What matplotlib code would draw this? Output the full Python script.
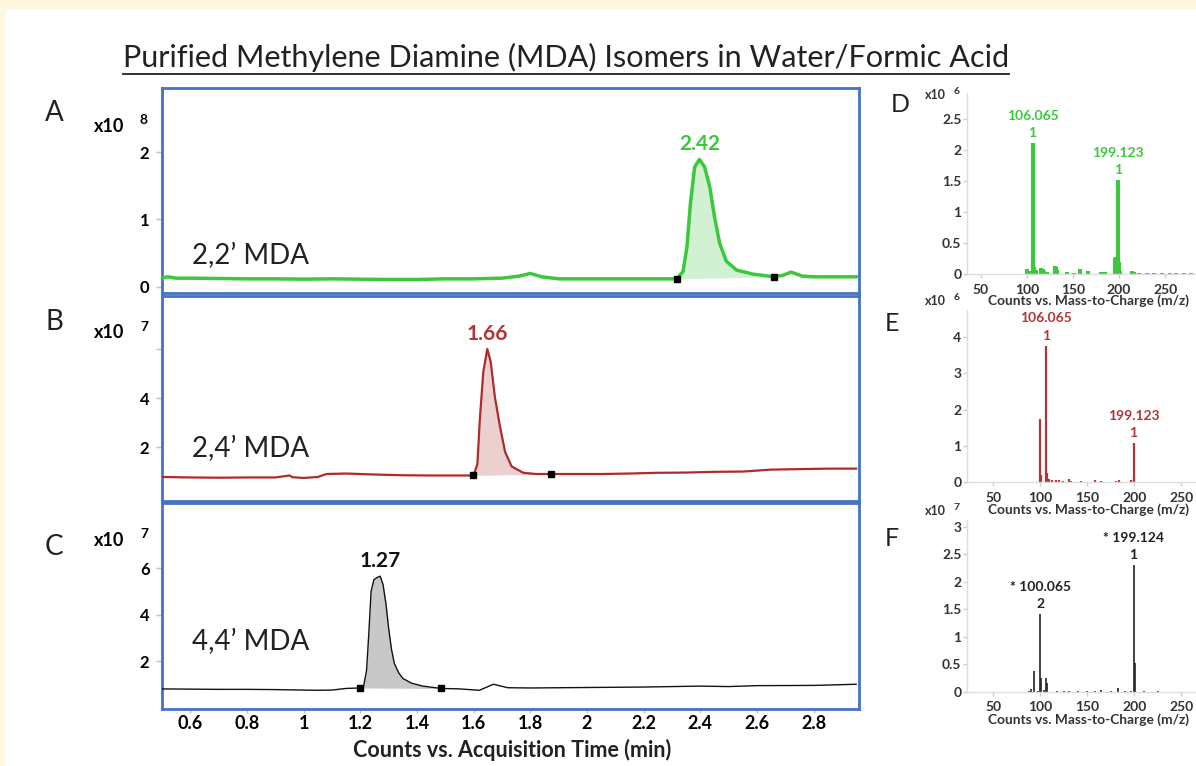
import numpy as np
import matplotlib
matplotlib.use('Agg')
import matplotlib.pyplot as plt
from matplotlib.patches import Rectangle
from matplotlib.lines import Line2D

plt.rcParams['font.family'] = ['Lato', 'DejaVu Sans']

W, H = 1196, 766

# ---- chromatograms: acquisition time (min) vs counts ----
# A: 2,2' MDA (x10^8)
t_a = [0.50, 0.52, 0.55, 0.60, 0.70, 0.80, 0.90, 1.00, 1.10, 1.20, 1.30, 1.40, 1.50, 1.60,
       1.70, 1.76, 1.80, 1.84, 1.90, 2.00, 2.10, 2.20, 2.30, 2.317, 2.339, 2.353, 2.365, 2.380,
       2.397, 2.415, 2.433, 2.450, 2.468, 2.492, 2.528, 2.586, 2.659, 2.69, 2.72, 2.76, 2.80,
       2.87, 2.95]
v_a = [0.13, 0.15, 0.13, 0.13, 0.125, 0.12, 0.12, 0.115, 0.12, 0.115, 0.11, 0.11, 0.12, 0.12,
       0.13, 0.16, 0.20, 0.15, 0.12, 0.12, 0.12, 0.12, 0.12, 0.12, 0.23, 0.60, 1.24, 1.78,
       1.89, 1.78, 1.49, 1.04, 0.65, 0.38, 0.25, 0.19, 0.15, 0.17, 0.22, 0.16, 0.15,
       0.15, 0.15]
mk_a_t = [2.317, 2.659]
mk_a_v = [0.12, 0.15]
rt_a = '2.42'

# B: 2,4' MDA (x10^7)
t_b = [0.50, 0.60, 0.70, 0.80, 0.90, 0.95, 0.96, 1.00, 1.05, 1.08, 1.15, 1.25, 1.35, 1.45,
       1.55, 1.599, 1.613, 1.622, 1.634, 1.648, 1.660, 1.675, 1.693, 1.711, 1.734, 1.775,
       1.82, 1.872, 1.95, 2.05, 2.15, 2.25, 2.35, 2.45, 2.55, 2.65, 2.75, 2.85, 2.95]
v_b = [0.78, 0.76, 0.75, 0.76, 0.76, 0.84, 0.77, 0.74, 0.78, 0.90, 0.92, 0.88, 0.85, 0.84,
       0.84, 0.84, 1.29, 3.17, 5.06, 6.0, 5.49, 4.03, 2.83, 1.80, 1.21, 0.95,
       0.90, 0.90, 0.90, 0.90, 0.92, 0.95, 0.96, 0.99, 1.00, 1.08, 1.10, 1.12, 1.12]
mk_b_t = [1.599, 1.872]
mk_b_v = [0.84, 0.90]
rt_b = '1.66'

# C: 4,4' MDA (x10^7)
t_c = [0.50, 0.60, 0.70, 0.80, 0.90, 1.00, 1.05, 1.10, 1.15, 1.20, 1.212, 1.222, 1.230,
       1.238, 1.248, 1.26, 1.27, 1.28, 1.29, 1.30, 1.31, 1.32, 1.335, 1.35, 1.38, 1.42,
       1.485, 1.55, 1.62, 1.67, 1.72, 1.80, 1.90, 2.00, 2.20, 2.40, 2.50, 2.60, 2.80, 2.95]
v_c = [0.80, 0.79, 0.78, 0.78, 0.77, 0.75, 0.74, 0.75, 0.82, 0.84, 0.95, 1.6, 3.2,
       5.0, 5.5, 5.6, 5.65, 5.3, 4.5, 3.4, 2.5, 1.9, 1.5, 1.25, 1.05, 0.92,
       0.82, 0.80, 0.74, 1.0, 0.85, 0.84, 0.85, 0.86, 0.88, 0.92, 0.90, 0.94, 0.95, 1.0]
mk_c_t = [1.20, 1.485]
mk_c_v = [0.84, 0.82]
rt_c = '1.27'

time_ticks = [0.6, 0.8, 1.0, 1.2, 1.4, 1.6, 1.8, 2.0, 2.2, 2.4, 2.6, 2.8]
time_labels = ['0.6', '0.8', '1', '1.2', '1.4', '1.6', '1.8', '2', '2.2', '2.4', '2.6', '2.8']

# ---- mass spectra: m/z vs counts ----
d_mz = [100, 103, 106.065, 108, 110, 115, 117, 119, 122, 130, 131, 133, 143, 151, 158, 166,
        180, 182, 185, 196, 197, 198, 199.123, 200, 201, 214, 216, 222, 230, 238, 247, 255,
        262, 270, 278]
d_int = [0.08, 0.05, 2.12, 0.12, 0.06, 0.10, 0.08, 0.05, 0.04, 0.13, 0.12, 0.07, 0.03, 0.02,
         0.08, 0.05, 0.04, 0.04, 0.03, 0.26, 0.27, 0.22, 1.52, 0.20, 0.05, 0.05, 0.04, 0.02,
         0.02, 0.02, 0.02, 0.02, 0.02, 0.02, 0.01]
d_lab = [(106.065, '106.065', '1'), (199.123, '199.123', '1')]

e_mz = [100, 101, 106.065, 107, 109, 112, 117, 120, 124, 131, 133, 143, 150, 158, 165, 172,
        180, 184, 192, 196, 199.123, 200, 210, 220, 230, 240, 250, 260]
e_int = [1.75, 0.2, 3.77, 0.25, 0.08, 0.06, 0.07, 0.05, 0.04, 0.09, 0.04, 0.03, 0.02, 0.06,
         0.03, 0.02, 0.04, 0.07, 0.02, 0.05, 1.09, 0.15, 0.02, 0.02, 0.02, 0.015, 0.015, 0.015]
e_lab = [(106.065, '106.065', '1'), (199.123, '199.123', '1')]

f_mz = [88, 90, 93, 97, 100.065, 101, 104, 106, 107, 118, 125, 130, 140, 150, 158, 165, 175,
        183, 190, 196, 199.124, 200.5, 210, 225]
f_int = [0.02, 0.04, 0.37, 0.02, 1.41, 0.25, 0.03, 0.25, 0.15, 0.02, 0.02, 0.02, 0.015, 0.015,
         0.02, 0.03, 0.02, 0.07, 0.02, 0.02, 2.30, 0.52, 0.01, 0.01]
f_lab = [(100.065, '* 100.065', '2'), (199.124, '* 199.124', '1')]

mz_ticks = [50, 100, 150, 200, 250]

fig = plt.figure(figsize=(W / 100, H / 100), dpi=100)
fig.patch.set_facecolor('#fff8e1')
fig.patches.append(Rectangle((6 / W, 0), 1, 1 - 10 / H, transform=fig.transFigure,
                             facecolor='white', edgecolor='none', zorder=-1))


def px(l, t, r, b):
    return [l / W, 1 - b / H, (r - l) / W, (b - t) / H]


def ftext(x, y, s, **kw):
    return fig.text(x / W, 1 - y / H, s, **kw)


title = ftext(566, 67, 'Purified Methylene Diamine (MDA) Isomers in Water/Formic Acid',
              ha='center', va='baseline', fontsize=20, color='#222222')

chroms = [
    ((162, 88, 859, 293), t_a, v_a, mk_a_t, mk_a_v, rt_a, '#3cc83c', '#3cc83c', '#d2f1d2', 2.5,
     (-0.09, 2.95), [0, 1, 2], ['0', '1', '2'], '8', 'A', "2,2\u2019 MDA", (113, 126, 264)),
    ((162, 296, 859, 501), t_b, v_b, mk_b_t, mk_b_v, rt_b, '#b02a2a', '#b33535', '#ecd0d0', 1.6,
     (-0.2, 8.16), [2, 4, 6], ['2', '4', ''], '7', 'B', "2,4\u2019 MDA", (322, 333, 457)),
    ((162, 503, 859, 709), t_c, v_c, mk_c_t, mk_c_v, rt_c, '#111111', '#111111', '#c8c8c8', 1.0,
     (-0.065, 8.8), [2, 4, 6], ['2', '4', '6'], '7', 'C', "4,4\u2019 MDA", (547, 540, 650)),
]

for (box, t, v, mt, mv, rt, col, tcol, fcol, lw, ylim, yt, ytl, ex, letter, name,
     (let_y, ex_y, name_y)) in chroms:
    ax = fig.add_axes(px(*box))
    t = np.array(t)
    v = np.array(v)
    ax.plot(t, v, color=col, lw=lw, zorder=3)
    sel = (t >= mt[0]) & (t <= mt[1])
    ax.fill_between(t[sel], v[sel], np.interp(t[sel], mt, mv), color=fcol, lw=0, zorder=2)
    ax.plot(mt, mv, 's', color='black', ms=4, zorder=4)
    i = int(np.argmax(v))
    ax.annotate(rt, (t[i], v[i]), xytext=(0, 11), textcoords='offset points', ha='center',
                va='center', color=tcol, fontsize=15, fontweight='bold')
    ax.set_xlim(0.5, 2.96)
    ax.set_ylim(*ylim)
    ax.set_yticks(yt)
    ax.set_yticklabels(ytl, fontsize=12, fontweight='bold')
    ax.tick_params(axis='y', length=4, width=1, color='#c0c0c0', pad=5)
    for s in ax.spines.values():
        s.set_color('#4472c4')
        s.set_linewidth(2)
    if letter == 'C':
        ax.set_xticks(time_ticks)
        ax.set_xticklabels(time_labels, fontsize=13, fontweight='bold')
        ax.tick_params(axis='x', length=3, width=1, color='#c0c0c0', pad=1.5)
    else:
        ax.set_xticks([])
    ftext(54, let_y, letter, ha='center', va='center', fontsize=20, color='#222222')
    ftext(109, ex_y, 'x10', ha='center', va='center', fontsize=13, fontweight='bold')
    ftext(144, ex_y - 6, ex, ha='center', va='center', fontsize=10, fontweight='bold')
    ftext(192, name_y, name, ha='left', va='baseline', fontsize=20, color='#222222')

xlab = ftext(512, 750, 'Counts vs. Acquisition Time (min)', ha='center', va='center',
             fontsize=15.5, fontweight='bold', color='#222222')

spectra = [
    ((967, 93, 1196, 274), d_mz, d_int, d_lab, (35, 283.4), (0, 2.92),
     [0, 0.5, 1, 1.5, 2, 2.5], ['0', '0.5', '1', '1.5', '2', '2.5'], '#3cc83c', 3.0,
     '6', 'D', (900, 105), (95, 301)),
    ((967, 310, 1196, 482.3), e_mz, e_int, e_lab, (22, 265.6), (0, 4.75),
     [0, 1, 2, 3, 4], ['0', '1', '2', '3', '4'], '#b33535', 1.6,
     '6', 'E', (892, 323), (301, 510)),
    ((967, 520, 1196, 691.7), f_mz, f_int, f_lab, (22, 265.6), (0, 3.12),
     [0, 0.5, 1, 1.5, 2, 2.5, 3], ['0', '0.5', '1', '1.5', '2', '2.5', '3'], '#222222', 1.2,
     '7', 'F', (892, 538), (511, 720)),
]

mz_labels = []
for (box, mz, inten, labs, xlim, ylim, yt, ytl, col, lw, ex, letter, let_xy,
     (ex_y, xl_y)) in spectra:
    ax = fig.add_axes(px(*box))
    ax.set_facecolor('none')
    ax.vlines(mz, 0, inten, color=col, lw=lw)
    for m, big, small in labs:
        h = inten[mz.index(m)]
        ax.annotate(small, (m, h), xytext=(0, 7), textcoords='offset points', ha='center',
                    va='center', color=col, fontsize=10, fontweight='bold')
        ax.annotate(big, (m, h), xytext=(0, 19.5), textcoords='offset points', ha='center',
                    va='center', color=col, fontsize=10, fontweight='bold')
    ax.set_xlim(*xlim)
    ax.set_ylim(*ylim)
    ax.set_xticks(mz_ticks)
    ax.set_xticklabels([str(m) for m in mz_ticks], fontsize=10, fontweight='bold',
                       color='#333333')
    ax.set_yticks(yt)
    ax.set_yticklabels(ytl, fontsize=10, fontweight='bold', color='#333333')
    ax.tick_params(axis='x', length=3, width=1, color='#cccccc', pad=4)
    ax.tick_params(axis='y', length=3, width=1, color='#cccccc', pad=1)
    for s in ['top', 'right']:
        ax.spines[s].set_visible(False)
    for s in ['left', 'bottom']:
        ax.spines[s].set_color('#dddddd')
        ax.spines[s].set_linewidth(1)
    ftext(let_xy[0], let_xy[1], letter, ha='center', va='center', fontsize=18,
          color='#222222')
    ftext(935, ex_y, 'x10', ha='center', va='center', fontsize=9, fontweight='bold',
          color='#333333')
    ftext(957, ex_y - 4, ex, ha='center', va='center', fontsize=7.5, fontweight='bold',
          color='#333333')
    mz_labels.append(ftext(1089, xl_y, 'Counts vs. Mass-to-Charge (m/z)', ha='center',
                           va='center', fontsize=10, fontweight='bold', color='#333333'))

# fit long labels to their width in the reference
fig.canvas.draw()
r = fig.canvas.get_renderer()
for txt, width in [(title, 888)] + [(m, 200) for m in mz_labels]:
    bb = txt.get_window_extent(r)
    txt.set_fontsize(txt.get_fontsize() * width / bb.width)
fig.canvas.draw()
bb = title.get_window_extent(r)
fig.lines.append(Line2D([bb.x0 / W, bb.x1 / W], [1 - 74 / H, 1 - 74 / H],
                        transform=fig.transFigure, color='#222222', lw=1.3))

fig.savefig('out.png', dpi=100, facecolor=fig.get_facecolor())
